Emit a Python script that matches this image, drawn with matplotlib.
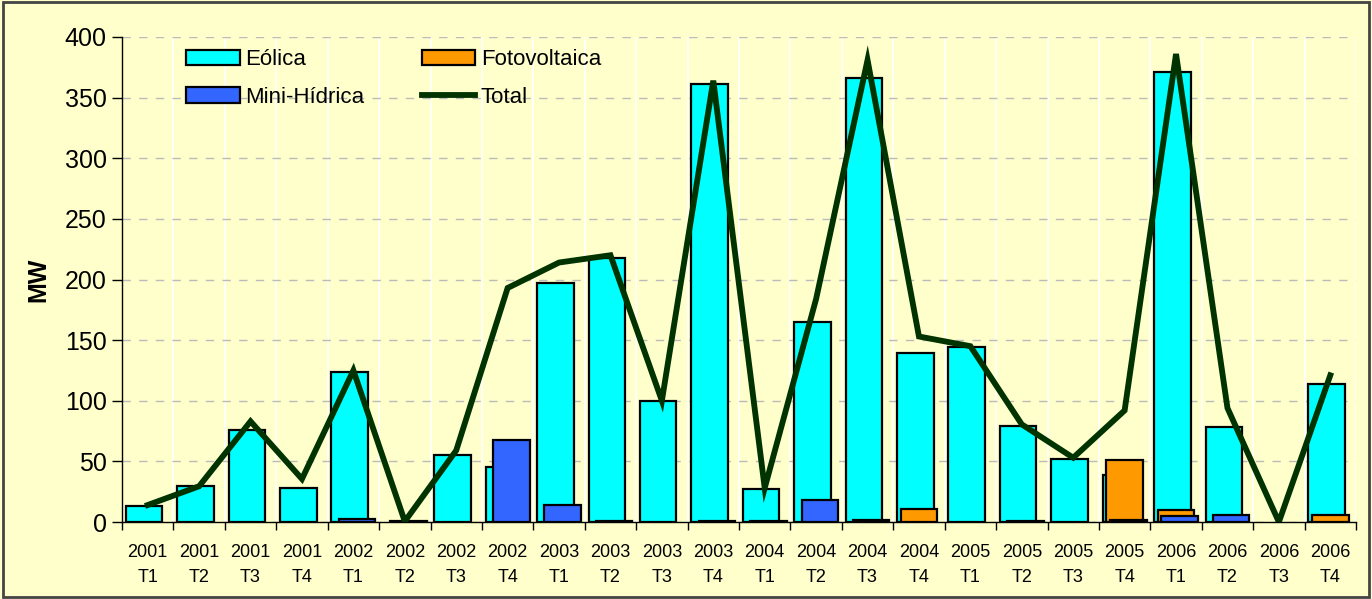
import numpy as np
import matplotlib
matplotlib.use("Agg")
import matplotlib.pyplot as plt
from matplotlib.patches import Rectangle

plt.rcParams['font.family'] = ['Liberation Sans', 'DejaVu Sans']

years = ["2001"] * 4 + ["2002"] * 4 + ["2003"] * 4 + ["2004"] * 4 + ["2005"] * 4 + ["2006"] * 4
quarters = ["T1", "T2", "T3", "T4"] * 6
labels = [f"{y}\n{q}" for y, q in zip(years, quarters)]

eolica = [13.5, 30, 76, 28, 123.5, 0, 55, 45, 197, 217.5, 100, 361,
          27, 165, 366, 139, 144, 79.5, 52, 39, 371, 78.5, 0, 114]
fotovoltaica = [0, 0, 0, 0, 0, 0, 0, 0, 0, 0, 0, 0,
                0, 0, 0, 11, 0, 0, 0, 51.5, 10, 0, 0, 6]
mini_hidrica = [0, 0, 0, 0, 2.5, 1, 0, 68, 14, 1, 0, 1,
                1, 18, 2, 0, 0, 1, 0, 1.5, 5, 5.5, 0, 0]
total = [14, 29.5, 83, 35.5, 125, 0.5, 59, 193, 214, 220, 100, 364,
         28, 184, 381, 153, 145, 80.5, 53, 92, 386, 94, 0, 121]

bg = "#FFFFCC"
fig = plt.figure(figsize=(13.72, 5.99), dpi=100, facecolor=bg)
ax = fig.add_axes([122 / 1372, 1 - 522 / 599, (1356 - 122) / 1372, (522 - 37) / 599])
ax.set_facecolor(bg)

x = np.arange(len(labels))
w = 0.71
off = 0.072

def masked(v):
    a = np.array(v, dtype=float)
    a[a == 0] = np.nan
    return a

b1 = ax.bar(x - off, masked(eolica), w, color="#00FFFF", edgecolor="black", linewidth=1.6, zorder=3, label="Eólica")
b3 = ax.bar(x, masked(fotovoltaica), w, color="#FF9900", edgecolor="black", linewidth=1.6, zorder=4, label="Fotovoltaica")
b2 = ax.bar(x + off, masked(mini_hidrica), w, color="#3366FF", edgecolor="black", linewidth=1.6, zorder=5, label="Mini-Hídrica")
ln, = ax.plot(x, total, color="#003300", linewidth=4.2, solid_joinstyle="miter", zorder=6, label="Total")

ax.set_xlim(-0.5, len(labels) - 0.5)
ax.set_ylim(0, 400)
ax.set_yticks(np.arange(0, 401, 50))
ax.tick_params(axis='y', labelsize=18, length=7, width=1, direction='out', pad=4)

ax.set_xticks(np.arange(-0.5, len(labels), 1))
ax.set_xticklabels([])
ax.set_xticks(x, minor=True)
ax.set_xticklabels(labels, minor=True, fontsize=13, linespacing=1.6)
ax.tick_params(axis='x', which='major', length=6, width=1, direction='out')
ax.tick_params(axis='x', which='minor', length=0, pad=16)

ax.grid(axis='y', which='major', color="#BBBBBB", linestyle=(0, (6, 6)), linewidth=1, zorder=1)
ax.grid(axis='x', which='major', color="white", linestyle='-', linewidth=1.2, zorder=1)

for s in ['top', 'right']:
    ax.spines[s].set_visible(False)
ax.spines['left'].set_linewidth(1)
ax.spines['bottom'].set_linewidth(1)

ax.set_ylabel("MW", fontsize=18, fontweight='bold', labelpad=10)

leg = ax.legend(handles=[b1, b2, b3, ln], ncol=2, loc='upper left', bbox_to_anchor=(0.043, 0.998),
                frameon=False, fontsize=16, handlelength=2.4, handleheight=0.7,
                columnspacing=2.6, labelspacing=0.75, handletextpad=0.25, borderpad=0)

fig.add_artist(Rectangle((0.002, 0.003), 0.996, 0.994, transform=fig.transFigure,
                         fill=False, edgecolor="#444444", linewidth=2))

fig.savefig("out.png", dpi=100, facecolor=bg)
